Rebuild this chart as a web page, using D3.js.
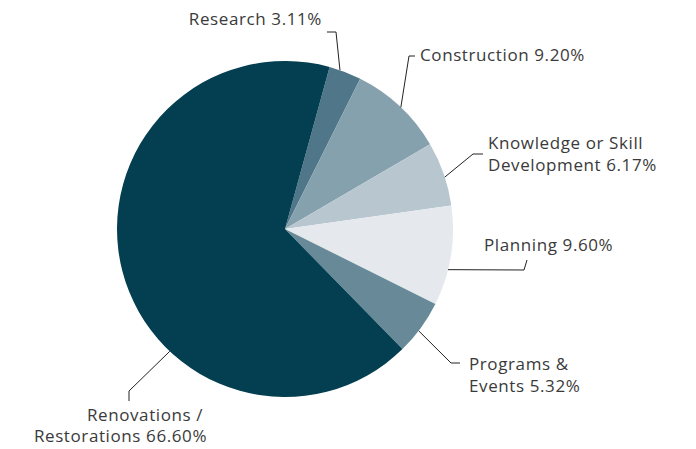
<!DOCTYPE html>
<html>
<head>
<meta charset="utf-8">
<script src="https://cdn.jsdelivr.net/npm/d3@7"></script>
<style>
  body { margin: 0; background: #fff; }
  text { font-family: "Open Sans", sans-serif; font-size: 17px; letter-spacing: 0.6px; fill: #3a3a3a; }
</style>
</head>
<body>
<div id="chart"></div>
<script>
var width = 696;
var height = 449;

// data
var categories = ["Research", "Construction", "Knowledge or Skill Development", "Planning", "Programs & Events", "Renovations / Restorations"];
var shares = [3.11, 9.20, 6.17, 9.60, 5.32, 66.60];
var colors = ["#4f7789", "#86a1ae", "#b7c6cf", "#e5e9ee", "#688997", "#033f50"];

// label lines as they wrap in the picture
var labelLines = [
  ["Research 3.11%"],
  ["Construction 9.20%"],
  ["Knowledge or Skill", "Development 6.17%"],
  ["Planning 9.60%"],
  ["Programs &", "Events 5.32%"],
  ["Renovations /", "Restorations 66.60%"]
];

var cx = 285, cy = 229, radius = 168;
var startDeg = 15.4;

// connector start angle (deg), elbow, end, text anchor/position
var layout = [
  {ang: 19.1, elbow: [336, 32], end: [327, 32], anchor: "end", x: [322], y: [19]},
  {ang: 43.6, elbow: [409, 56], end: [415, 56], anchor: "start", x: [420], y: [55]},
  {ang: 72, elbow: [473, 154], end: [483, 154], anchor: "start", x: [488, 488], y: [143, 165]},
  {ang: 104, elbow: [524, 270], end: [527, 260], anchor: "start", x: [484], y: [245]},
  {ang: 127.3, elbow: [451, 363], end: [460, 363], anchor: "start", x: [469, 469], y: [364, 386]},
  {ang: 223.3, elbow: [129, 391], end: [129, 401], anchor: "middle", x: [145, 120.5], y: [415, 436]}
];

var svg = d3.select("#chart").append("svg")
  .attr("width", width)
  .attr("height", height);

var pie = d3.pie()
  .sort(null)
  .value(function(d) { return d; })
  .startAngle(startDeg * Math.PI / 180)
  .endAngle(startDeg * Math.PI / 180 + 2 * Math.PI);

var arc = d3.arc().innerRadius(0).outerRadius(radius);

var g = svg.append("g").attr("transform", "translate(" + cx + "," + cy + ")");

g.selectAll("path")
  .data(pie(shares))
  .enter()
  .append("path")
  .attr("d", arc)
  .attr("fill", function(d, i) { return colors[i]; });

// connectors
svg.selectAll("polyline")
  .data(layout)
  .enter()
  .append("polyline")
  .attr("points", function(d) {
    var a = d.ang * Math.PI / 180;
    var sx = cx + radius * Math.sin(a);
    var sy = cy - radius * Math.cos(a);
    return [[sx, sy], d.elbow, d.end].map(function(p) { return p.join(","); }).join(" ");
  })
  .attr("fill", "none")
  .attr("stroke", "#222")
  .attr("stroke-width", 1);

// labels
layout.forEach(function(l, i) {
  var t = svg.append("text").attr("text-anchor", l.anchor);
  labelLines[i].forEach(function(line, j) {
    t.append("tspan")
      .attr("x", l.x[j])
      .attr("y", l.y[j])
      .attr("dy", "0.35em")
      .text(line);
  });
});
</script>
</body>
</html>
